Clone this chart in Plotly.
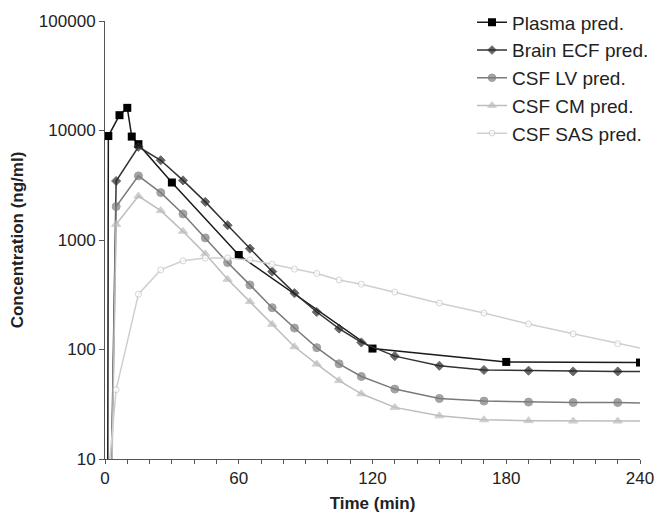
import plotly.graph_objects as go

# ---- data ----
t_plasma = [1, 1.5, 6.5, 10, 12, 15, 30, 60, 120, 180, 240]
c_plasma = [0.01, 8900, 13800, 16100, 8800, 7500, 3350, 730, 102, 77, 76]

t_pred = [0, 5, 15, 25, 35, 45, 55, 65, 75, 85, 95, 105, 115, 130, 150, 170, 190, 210, 230, 240]
c_ecf = [0.002, 3460, 7100, 5350, 3500, 2230, 1365, 835, 515, 327, 220, 155, 116, 87, 71, 65, 64, 63, 63, 63]
c_lv = [0.002, 2020, 3850, 2710, 1730, 1045, 622, 389, 241, 157, 104, 74, 56.7, 43.5, 35.7, 33.8, 33.1, 32.8, 32.8, 32.5]
c_cm = [0.002, 1390, 2520, 1855, 1200, 747, 438, 274, 170, 106, 73.6, 52, 39.4, 29.6, 24.8, 22.8, 22.4, 22.2, 22.2, 22.2]
c_sas = [3.2, 43, 320, 533, 645, 684, 685, 658, 601, 542, 495, 432, 395, 334, 265, 215, 171, 139, 113, 103]

x_ticks = [0, 60, 120, 180, 240]
y_ticks = [10, 100, 1000, 10000, 100000]
y_ticktext = ["10", "100", "1000", "10000", "100000"]

FONT = "Liberation Sans, Arial, Helvetica, sans-serif"


def sizes(n, s):
    # marker on every point except the last (line end without marker)
    return [s] * (n - 1) + [0]


fig = go.Figure()

fig.add_trace(go.Scatter(
    x=t_plasma, y=c_plasma, mode="lines+markers", name="Plasma pred.",
    line=dict(color="#1a1a1a", width=1.5),
    marker=dict(symbol="square", size=8, color="#000000"),
))
fig.add_trace(go.Scatter(
    x=t_pred, y=c_ecf, mode="lines+markers", name="Brain ECF pred.",
    line=dict(color="#333333", width=1.5),
    marker=dict(symbol="diamond", size=sizes(len(t_pred), 7), color="#262626"),
))
fig.add_trace(go.Scatter(
    x=t_pred, y=c_lv, mode="lines+markers", name="CSF LV pred.",
    line=dict(color="#7a7a7a", width=1.5),
    marker=dict(symbol="circle", size=sizes(len(t_pred), 8), color="#7d7d7d"),
))
fig.add_trace(go.Scatter(
    x=t_pred, y=c_cm, mode="lines+markers", name="CSF CM pred.",
    line=dict(color="#bdbdbd", width=1.5),
    marker=dict(symbol="triangle-up", size=sizes(len(t_pred), 8), color="#bcbcbc"),
))
fig.add_trace(go.Scatter(
    x=t_pred, y=c_sas, mode="lines+markers", name="CSF SAS pred.",
    line=dict(color="#cfcfcf", width=1.5),
    marker=dict(symbol="circle", size=sizes(len(t_pred), 6), color="#ffffff",
                line=dict(color="#c4c4c4", width=1)),
))

fig.update_layout(
    width=654, height=513,
    margin=dict(l=105, r=14, t=21, b=54, autoexpand=False),
    paper_bgcolor="white", plot_bgcolor="white",
    font=dict(family=FONT, size=17, color="#222222"),
    showlegend=True,
    legend=dict(
        x=0.686, xanchor="left", y=1.04, yanchor="top",
        bgcolor="rgba(0,0,0,0)", font=dict(size=19, color="#222222"),
        tracegroupgap=0,
    ),
    xaxis=dict(
        range=[0, 240], tickvals=x_ticks, ticks="outside", ticklen=4,
        tickcolor="#555555", showline=True, linecolor="#555555", linewidth=1,
        showgrid=False, zeroline=False, automargin=False,
        ticklabeloverflow="allow",
        minor=dict(dtick=10, ticks="outside", ticklen=4, tickcolor="#555555", showgrid=False),
        title=dict(text="Time (min)", font=dict(size=17, weight="bold"), standoff=10),
        tickfont=dict(size=17),
    ),
    yaxis=dict(
        type="log", range=[1, 5], tickvals=y_ticks, ticktext=y_ticktext,
        ticks="outside", ticklen=5, tickcolor="#555555",
        showline=True, linecolor="#555555", linewidth=1,
        showgrid=False, zeroline=False, automargin=False,
        ticklabeloverflow="allow",
        title=dict(text="Concentration (ng/ml)", font=dict(size=17, weight="bold"), standoff=10),
        tickfont=dict(size=17),
    ),
)

fig.write_html(
    "out.html",
    config={"displayModeBar": False},
    post_script="document.body.style.margin='0';document.body.style.overflow='hidden';",
)
